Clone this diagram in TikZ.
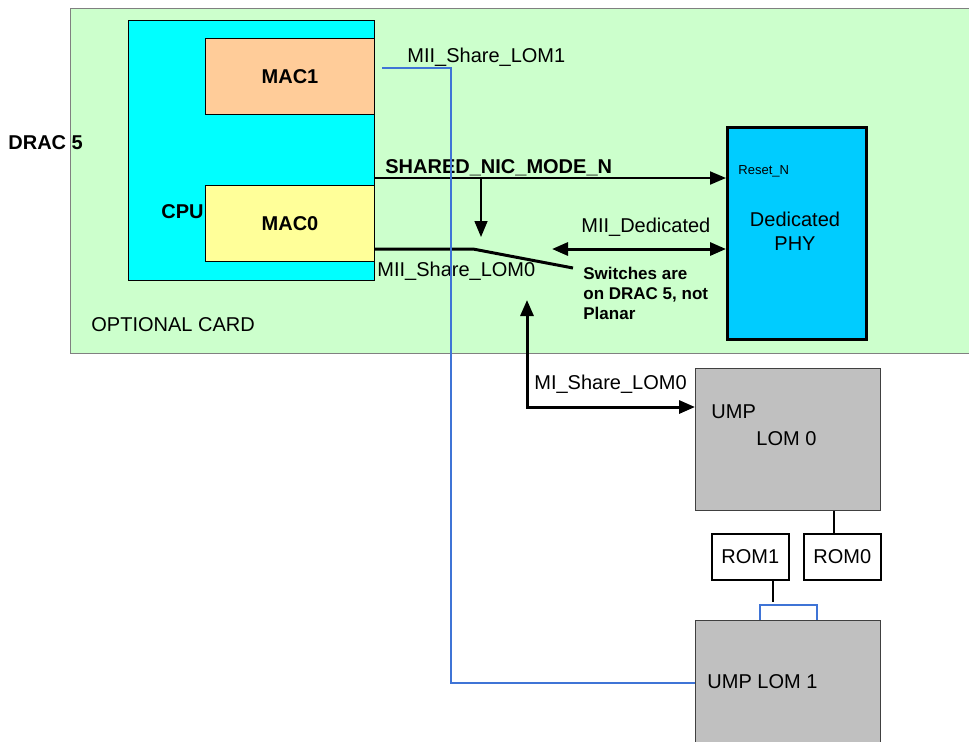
\documentclass[tikz,border=0pt]{standalone}
\usepackage{fontspec}
\setmainfont{Liberation Sans}
\usetikzlibrary{arrows.meta}

\definecolor{cardgreen}{HTML}{CCFFCC}
\definecolor{cpucyan}{HTML}{00FFFF}
\definecolor{macorange}{HTML}{FFCC99}
\definecolor{macyellow}{HTML}{FFFF99}
\definecolor{phyblue}{HTML}{00CCFF}
\definecolor{lomgray}{HTML}{C0C0C0}
\definecolor{wireblue}{HTML}{3F74D6}

\begin{document}
\begin{tikzpicture}[x=0.5pt, y=-0.5pt, font=\fontsize{10}{12}\selectfont,
                    box/.style={draw=black, line width=0.5pt, inner sep=0pt, anchor=north west},
                    label/.style={inner sep=0pt},
                    bus/.style={line width=1.5pt},
                    wire/.style={draw=wireblue, line width=0.6pt},
                    tip/.style={-{Triangle[length=8pt,width=6.5pt]}},
                    tips/.style={{Triangle[length=8pt,width=6.5pt]}-{Triangle[length=8pt,width=6.5pt]}}]

                    \useasboundingbox (0,0) rectangle (969,741);

                    % Optional card and its blocks
                    \node[box, draw=gray, fill=cardgreen, minimum width=452.5pt, minimum height=172.5pt] (card) at (70,8) {}; % Card
                    \node[box, fill=cpucyan, minimum width=123pt, minimum height=130pt] (cpu) at (128,20) {};            % CPU
                    \node[box, fill=macorange, minimum width=84.5pt, minimum height=38pt, font=\bfseries] (mac1) at (205,38) {MAC1};
                    \node[box, fill=macyellow, minimum width=84.5pt, minimum height=38pt, font=\bfseries] (mac0) at (205,185) {MAC0};
                    \node[box, line width=1.5pt, fill=phyblue, minimum width=69.5pt, minimum height=106pt] (phy) at (726,126) {}; % PHY

                    % Parts below the card
                    \node[box, draw=black!75, fill=lomgray, minimum width=92.5pt, minimum height=71pt] (lom0) at (695,368) {};
                    \node[box, line width=0.75pt, fill=white, minimum width=38.5pt, minimum height=23pt] (rom1) at (711,533) {ROM1};
                    \node[box, line width=0.75pt, fill=white, minimum width=38.5pt, minimum height=23pt] (rom0) at (803,533) {ROM0};
                    \node[box, draw=black!75, fill=lomgray, minimum width=92.5pt, minimum height=62.5pt] (lom1) at (695,620) {};

                    % Text labels
                    \node[label, anchor=west, font=\bfseries] (drac) at (8,143) {DRAC 5};
                    \node[label, anchor=west] (optcard) at (91,325) {OPTIONAL CARD};
                    \node[label, anchor=east, font=\bfseries] (cpulabel) at (204,212) {CPU};
                    \node[label, anchor=west] (lom1label) at (407,57) {MII\_Share\_LOM1};
                    \node[label, anchor=base west, font=\bfseries] (niclabel) at (385,173) {SHARED\_NIC\_MODE\_N};
                    \node[label, anchor=west] (lom0label) at (377,271) {MII\_Share\_LOM0};
                    \node[label, anchor=west] (dedlabel) at (581,227) {MII\_Dedicated};
                    \node[label, anchor=north west, align=left, font=\bfseries\fontsize{8.5}{10}\selectfont] (note) at (583,267) {Switches are\\on DRAC 5, not\\Planar};
                    \node[label, anchor=west] (milabel) at (534,384) {MI\_Share\_LOM0};
                    \node[label, anchor=west, font=\fontsize{6.5}{8}\selectfont] (reset) at (738,171) {Reset\_N};
                    \node[label, align=center] (phylabel) at (795,231) {Dedicated\\PHY};
                    \node[label, anchor=west] (ump0) at (711,412) {UMP};
                    \node[label, anchor=west] (lom0name) at (756,439) {LOM 0};
                    \node[label, anchor=west] (ump1) at (707,682) {UMP LOM 1};

                    % Points for the connectors
                    \coordinate (nicy) at (0,178);
                    \coordinate (tap) at (481,178);
                    \coordinate (swtop) at (481,237);
                    \coordinate (pivot) at (473,249);
                    \coordinate (blade) at (573,268);
                    \coordinate (dedl) at (552,249);
                    \coordinate (swbot) at (527,300);
                    \coordinate (umpy) at (0,407);
                    \coordinate (rom0tap) at (834,0);
                    \coordinate (rom1tap) at (773,602);
                    \coordinate (brl) at (760,605);
                    \coordinate (brr) at (817,605);
                    \coordinate (w1) at (382,68);
                    \coordinate (wx) at (451,0);

                    % Connectors
                    \draw[tip, line width=1pt] (cpu.east |- nicy) -- (phy.west |- nicy);   % Shared NIC mode
                    \draw[tip, line width=0.75pt] (tap) -- (swtop);                        % Switch control
                    \draw[bus] (mac0.east |- pivot) -- (pivot) -- (blade);                  % Switch blade
                    \draw[bus, tips] (dedl) -- (phy.west |- dedl);                          % Dedicated
                    \draw[bus, tips] (swbot) |- (lom0.west |- umpy);                         % To LOM 0
                    \draw[line width=0.75pt] (lom0.south -| rom0tap) -- (rom0.north -| rom0tap);
                    \draw[line width=0.75pt] (rom1.south -| rom1tap) -- (rom1tap);
                    \draw[wire] (lom1.north -| brl) -- (brl) -- (brr) -- (lom1.north -| brr);
                    \draw[wire] (w1) -| (lom1.west -| wx) -- (lom1.west);                   % Share LOM 1
                \end{tikzpicture}
\end{document}
